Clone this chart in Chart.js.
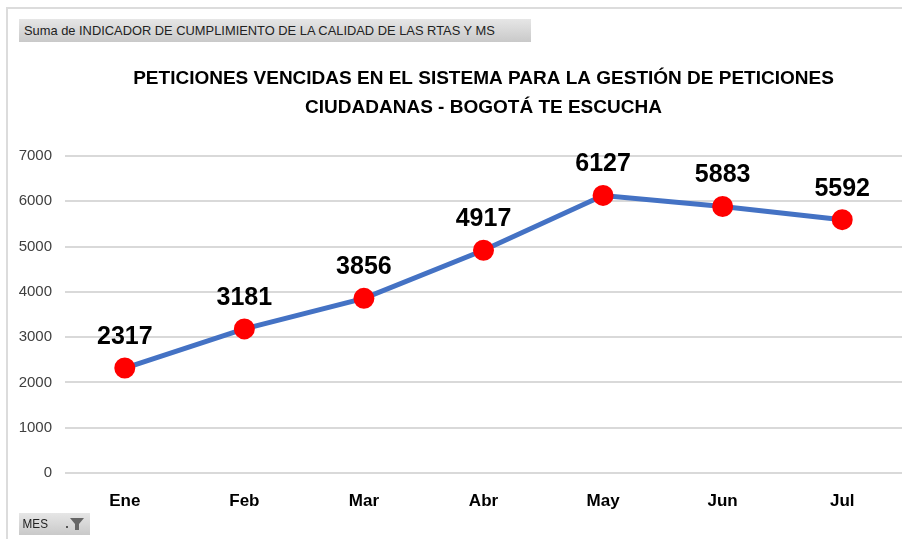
<!DOCTYPE html>
<html>
<head>
<meta charset="utf-8">
<script src="https://cdn.jsdelivr.net/npm/chart.js@4/dist/chart.umd.min.js"></script>
<style>
 body { margin: 0; background: #fff; overflow: hidden; }
 #wrap { position: relative; width: 902px; height: 539px; }
 #frame { position: absolute; left: 6px; top: 7px; right: -5px; bottom: -5px; border-left: 2px solid #dcdcdc; border-top: 2px solid #dcdcdc; }
 .btn { position: absolute; background: linear-gradient(#e6e6e6, #c9c9c9); color: #222; font-family: "Liberation Sans", Arial, sans-serif; font-size: 13px; line-height: 23px; white-space: nowrap; }
 #suma { left: 19px; top: 19px; width: 512px; height: 23px; }
 #suma span { display: inline-block; padding-left: 5px; transform-origin: left center; transform: scaleX(0.99); }
 #mes { left: 19px; top: 513px; width: 71px; height: 22px; line-height: 22px; }
 #mes span { padding-left: 4px; display: inline-block; transform-origin: left center; transform: scaleX(0.9); }
 #mes svg { position: absolute; left: 46px; top: 4px; }
 canvas { position: absolute; left: 0; top: 0; }
</style>
</head>
<body>
<div id="wrap">
 <canvas id="chart" width="902" height="539"></canvas>
 <div id="frame"></div>
 <div class="btn" id="suma"><span>Suma de INDICADOR DE CUMPLIMIENTO DE LA CALIDAD DE LAS RTAS Y MS</span></div>
 <div class="btn" id="mes"><span>MES</span>
  <svg width="20" height="14" viewBox="0 0 20 14"><rect x="1" y="9" width="2" height="2" fill="#555"/><path d="M5 1 H19 L14 7 V13 H10 V7 Z" fill="#666"/></svg>
 </div>
</div>
<script>
var months = ["Ene", "Feb", "Mar", "Abr", "May", "Jun", "Jul"];
var peticiones = [2317, 3181, 3856, 4917, 6127, 5883, 5592];
var yTicks = [0, 1000, 2000, 3000, 4000, 5000, 6000, 7000];
var titleLines = ["PETICIONES VENCIDAS EN EL SISTEMA PARA LA GESTIÓN DE PETICIONES", "CIUDADANAS - BOGOTÁ TE ESCUCHA"];

// labels over each point, like excel data labels
var pointLabels = {
 id: "pointLabels",
 afterDatasetsDraw: function (chart) {
  var ctx = chart.ctx;
  var meta = chart.getDatasetMeta(0);
  ctx.save();
  ctx.font = "bold 25px 'Liberation Sans', Arial, sans-serif";
  ctx.fillStyle = "#000";
  ctx.textAlign = "center";
  ctx.textBaseline = "middle";
  meta.data.forEach(function (pt, i) {
   ctx.fillText(String(peticiones[i]), pt.x, pt.y - 31);
  });
  ctx.restore();
 },
};

var ctx = document.getElementById("chart");
new Chart(ctx, {
 type: "line",
 data: {
  labels: months,
  datasets: [
   {
    label: "Peticiones vencidas",
    data: peticiones,
    borderColor: "#4472C4",
    borderWidth: 5,
    pointBackgroundColor: "#FF0000",
    pointBorderColor: "#FF0000",
    pointRadius: 8,
    tension: 0,
    clip: false,
   },
  ],
 },
 options: {
  responsive: false,
  animation: false,
  layout: { padding: 0, autoPadding: false },
  plugins: {
   legend: { display: false },
   tooltip: { enabled: false },
   title: {
    display: true,
    fullSize: false,
    text: titleLines,
    color: "#000",
    font: { family: "'Liberation Sans', Arial, sans-serif", size: 19, weight: "bold", lineHeight: 1.55 },
    padding: { top: 64, bottom: 33 },
   },
  },
  scales: {
   x: {
    offset: true,
    grid: { display: false, drawTicks: false },
    border: { display: false },
    ticks: {
     color: "#000",
     padding: 18,
     font: { family: "'Liberation Sans', Arial, sans-serif", size: 17, weight: "bold" },
    },
    afterFit: function (scale) {
     scale.height = 66;
     scale.paddingLeft = 0;
     scale.paddingRight = 0;
    },
   },
   y: {
    min: 0,
    max: 7000,
    afterBuildTicks: function (scale) {
     scale.ticks = yTicks.map(function (v) { return { value: v }; });
    },
    grid: { color: "#d9d9d9", lineWidth: 2, drawTicks: false },
    border: { display: false },
    ticks: {
     color: "#404040",
     padding: 13,
     font: { family: "'Liberation Sans', Arial, sans-serif", size: 15 },
     callback: function (v) { return String(v); },
    },
    afterFit: function (scale) { scale.width = 65; },
   },
  },
 },
 plugins: [pointLabels],
});
</script>
</body>
</html>
